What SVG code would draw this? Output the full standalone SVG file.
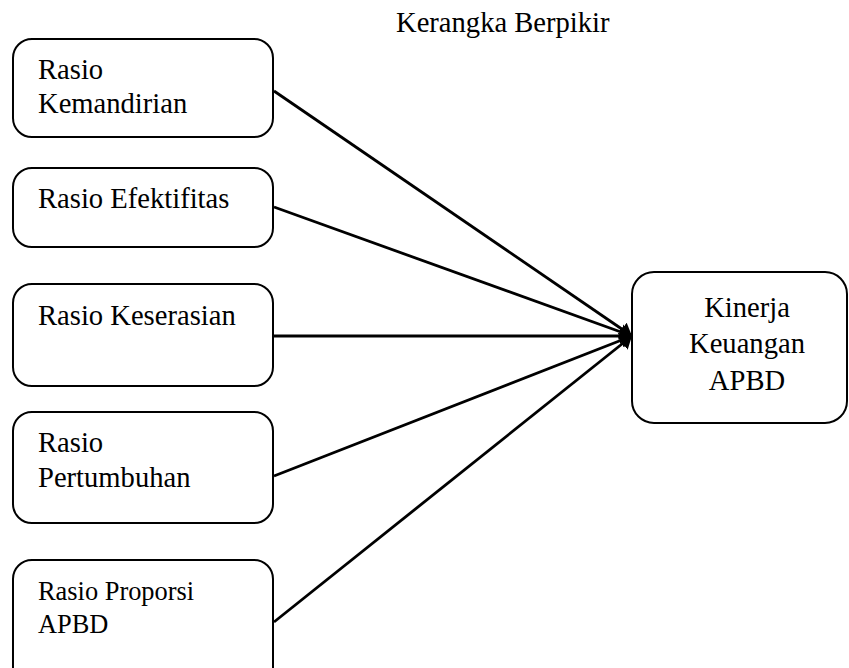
<svg xmlns="http://www.w3.org/2000/svg" width="849" height="668" viewBox="0 0 849 668">
<style>
.box{fill:#fff;stroke:#000;stroke-width:2}
.c{text-anchor:middle}
.ln{stroke:#000;stroke-width:2.8;fill:none;marker-end:url(#ah)}
</style>
<defs>
<marker id="ah" markerUnits="userSpaceOnUse" markerWidth="14" markerHeight="16" refX="12" refY="8" orient="auto">
<path d="M0,0 L12,8 L0,16 z" fill="#000"/>
</marker>
</defs>
<g font-family="Liberation Serif, Times New Roman, DejaVu Serif, serif" font-size="28.6" fill="#000">
<text x="396" y="32">Kerangka Berpikir</text>
</g>
<g id="connectors">
<line class="ln" x1="274" y1="91" x2="632" y2="336"/>
<line class="ln" x1="274" y1="207" x2="632" y2="336"/>
<line class="ln" x1="274" y1="336" x2="632" y2="336"/>
<line class="ln" x1="274" y1="476" x2="632" y2="336"/>
<line class="ln" x1="274" y1="622" x2="632" y2="336"/>
</g>
<g font-family="Liberation Serif, Times New Roman, DejaVu Serif, serif" font-size="28.6" fill="#000">
<g id="n1">
<rect class="box" x="13" y="39" width="260" height="98" rx="19"/>
<text x="38" y="79">Rasio</text>
<text x="38" y="113">Kemandirian</text>
</g>
<g id="n2">
<rect class="box" x="13" y="168" width="260" height="79" rx="19"/>
<text x="38" y="208">Rasio Efektifitas</text>
</g>
<g id="n3">
<rect class="box" x="13" y="284" width="260" height="102" rx="19"/>
<text x="38" y="325">Rasio Keserasian</text>
</g>
<g id="n4">
<rect class="box" x="13" y="412" width="260" height="111" rx="19"/>
<text x="38" y="452">Rasio</text>
<text x="38" y="487">Pertumbuhan</text>
</g>
<g id="n5">
<rect class="box" x="13" y="560" width="260" height="140" rx="19"/>
<text x="38" y="600" font-size="26.4">Rasio Proporsi</text>
<text x="38" y="633" font-size="26.4">APBD</text>
</g>
<g id="n6">
<rect class="box" x="632" y="272" width="215" height="151" rx="22"/>
<text class="c" x="747" y="317">Kinerja</text>
<text class="c" x="747" y="353">Keuangan</text>
<text class="c" x="747" y="390">APBD</text>
</g>
</g>
</svg>
